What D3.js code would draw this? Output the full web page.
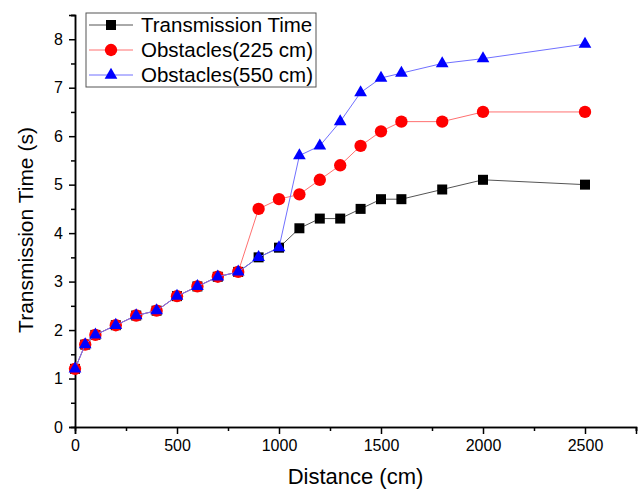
<!DOCTYPE html>
<html>
<head>
<meta charset="utf-8">
<script src="https://cdn.jsdelivr.net/npm/d3@7"></script>
<style>
  body { margin: 0; background: #fff; }
  svg { display: block; font-family: Arial, "Liberation Sans", sans-serif; }
</style>
</head>
<body>
<div id="main"></div>
<script>
const distance = [0, 50, 100, 200, 300, 400, 500, 600, 700, 800, 900, 1000,
                  1100, 1200, 1300, 1400, 1500, 1600, 1800, 2000, 2500];
const transmission = [1.2, 1.7, 1.9, 2.1, 2.3, 2.4, 2.7, 2.9, 3.1, 3.2, 3.5, 3.7,
                      4.1, 4.3, 4.3, 4.5, 4.7, 4.7, 4.9, 5.1, 5.0];
const obst225 = [1.2, 1.7, 1.9, 2.1, 2.3, 2.4, 2.7, 2.9, 3.1, 3.2, 4.5, 4.7,
                 4.8, 5.1, 5.4, 5.8, 6.1, 6.3, 6.3, 6.5, 6.5];
const obst550 = [1.2, 1.7, 1.9, 2.1, 2.3, 2.4, 2.7, 2.9, 3.1, 3.2, 3.5, 3.7,
                 5.6, 5.8, 6.3, 6.9, 7.2, 7.3, 7.5, 7.6, 7.9];
const seriesNames = ['Transmission Time', 'Obstacles(225 cm)', 'Obstacles(550 cm)'];
const xTicks = [0, 500, 1000, 1500, 2000, 2500];
const yTicks = [0, 1, 2, 3, 4, 5, 6, 7, 8];

document.addEventListener('DOMContentLoaded', () => {
  const width = 638, height = 490;
  const margin = { top: 15, right: 2, bottom: 63, left: 75 };

  const sx = d3.scaleLinear().domain([0, 2750])
    .range([margin.left, width - margin.right]);
  const sy = d3.scaleLinear().domain([0, 8.5])
    .range([height - margin.bottom, margin.top]);

  const svg = d3.select('#main').append('svg')
    .attr('width', width).attr('height', height)
    .attr('viewBox', [0, 0, width, height]);

  const series = [
    { name: seriesNames[0], values: transmission, line: '#555', fill: '#000', shape: d3.symbolSquare, size: 100 },
    { name: seriesNames[1], values: obst225, line: '#ff7070', fill: '#ff0000', shape: d3.symbolCircle, size: 120 },
    { name: seriesNames[2], values: obst550, line: '#7070ff', fill: '#0000ff', shape: d3.symbolTriangle, size: 70 }
  ];

  // axes: minor ticks first, then major with labels
  const styleAxis = g => {
    g.select('.domain').attr('stroke', '#000').attr('stroke-width', 1.5);
    g.selectAll('.tick line').attr('stroke', '#000').attr('stroke-width', 1.5);
  };
  const xMinor = d3.range(250, 2751, 500);
  const yMinor = d3.range(0.5, 8.6, 1);

  svg.append('g')
    .attr('transform', `translate(0,${sy(0)})`)
    .call(d3.axisBottom(sx).tickValues(xMinor).tickSize(4).tickFormat(''))
    .call(styleAxis);
  svg.append('g')
    .attr('transform', `translate(0,${sy(0)})`)
    .call(d3.axisBottom(sx).tickValues(xTicks).tickSize(7).tickPadding(6).tickFormat(d3.format('d')))
    .call(styleAxis)
    .call(g => g.selectAll('.tick text').attr('font-size', 16).attr('fill', '#000').attr('font-family', 'Arial, "Liberation Sans", sans-serif'));

  svg.append('g')
    .attr('transform', `translate(${sx(0)},0)`)
    .call(d3.axisLeft(sy).tickValues(yMinor).tickSize(4).tickFormat(''))
    .call(styleAxis);
  svg.append('g')
    .attr('transform', `translate(${sx(0)},0)`)
    .call(d3.axisLeft(sy).tickValues(yTicks).tickSize(6).tickPadding(6).tickFormat(d3.format('d')))
    .call(styleAxis)
    .call(g => g.selectAll('.tick text').attr('font-size', 16).attr('fill', '#000').attr('font-family', 'Arial, "Liberation Sans", sans-serif'));

  // axis titles
  svg.append('text')
    .attr('x', (sx(0) + sx(2750)) / 2).attr('y', 484)
    .attr('text-anchor', 'middle').attr('font-size', 22)
    .text('Distance (cm)');
  svg.append('text')
    .attr('transform', 'translate(33,230) rotate(-90)')
    .attr('text-anchor', 'middle').attr('font-size', 21)
    .text('Transmission Time (s)');

  const line = d3.line().x((d, i) => sx(distance[i])).y(d => sy(d));

  series.forEach(s => {
    svg.append('path')
      .attr('d', line(s.values))
      .attr('fill', 'none').attr('stroke', s.line).attr('stroke-width', 1);
    svg.append('g').selectAll('path').data(s.values).join('path')
      .attr('transform', (d, i) => `translate(${sx(distance[i])},${sy(d)})`)
      .attr('d', d3.symbol().type(s.shape).size(s.size))
      .attr('fill', s.fill);
  });

  // legend
  const lg = svg.append('g');
  lg.append('rect')
    .attr('x', 86).attr('y', 13).attr('width', 230).attr('height', 74)
    .attr('fill', '#fff').attr('stroke', '#555').attr('stroke-width', 1);
  series.forEach((s, i) => {
    const y = 25 + i * 25;
    lg.append('line')
      .attr('x1', 89).attr('x2', 133).attr('y1', y).attr('y2', y)
      .attr('stroke', s.line).attr('stroke-width', 1);
    lg.append('path')
      .attr('transform', `translate(111,${y})`)
      .attr('d', d3.symbol().type(s.shape).size(s.size))
      .attr('fill', s.fill);
    lg.append('text')
      .attr('x', 141).attr('y', y).attr('dy', '0.35em')
      .attr('font-size', 20.5).text(s.name);
  });
});
</script>
</body>
</html>
